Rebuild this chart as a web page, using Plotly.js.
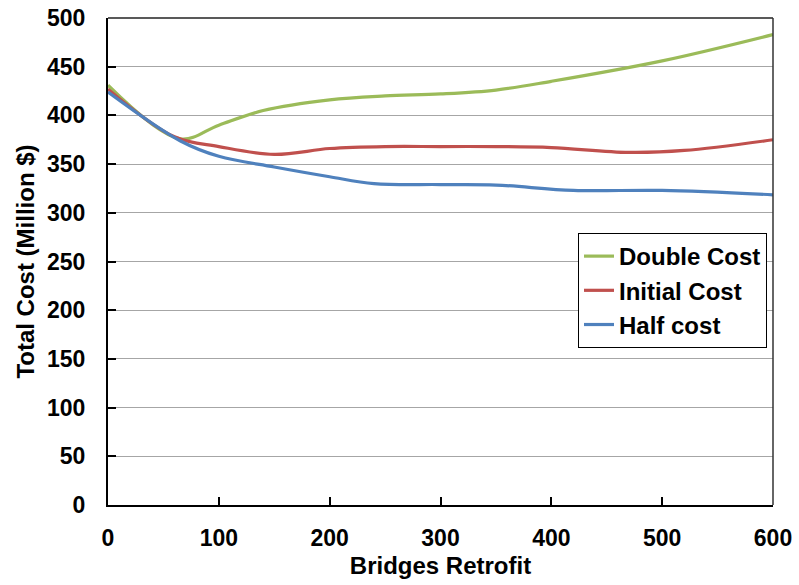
<!DOCTYPE html>
<html>
<head>
<meta charset="utf-8">
<script src="https://cdn.plot.ly/plotly-3.0.1.min.js"></script>
<style>html,body{margin:0;padding:0;background:#fff;}#chart{width:799px;height:585px;}</style>
</head>
<body>
<div id="chart"></div>
<script>
// Data
const doubleX = [0, 65, 100, 140, 200, 250, 300, 350, 400, 500, 600];
const doubleY = [431, 376, 390, 405, 416, 420, 422, 426, 435, 456, 483];
const initialX = [0, 60, 100, 150, 200, 250, 300, 350, 400, 470, 520, 600];
const initialY = [427, 378, 368, 360, 366, 368, 368, 368, 367, 362, 364, 375];
const halfX = [0, 65, 100, 150, 200, 240, 300, 350, 420, 500, 600];
const halfY = [424, 374, 358, 347, 337, 330, 329, 328.5, 323, 323, 318.5];
const seriesNames = ["Double Cost", "Initial Cost", "Half cost"];
const xTicks = [0, 100, 200, 300, 400, 500, 600];
const yTicks = [0, 50, 100, 150, 200, 250, 300, 350, 400, 450, 500];

const font = "Liberation Sans, Arial, sans-serif";
const mk = (x, y, name, color) => ({
  x: x, y: y, name: name, type: "scatter", mode: "lines",
  line: {color: color, width: 3.2, shape: "spline", smoothing: 1}
});
const traces = [
  mk(doubleX, doubleY, seriesNames[0], "#9BBB59"),
  mk(initialX, initialY, seriesNames[1], "#C0504D"),
  mk(halfX, halfY, seriesNames[2], "#4F81BD")
];
const layout = {
  width: 799, height: 585,
  margin: {l: 108, r: 26, t: 18, b: 80},
  paper_bgcolor: "#fff", plot_bgcolor: "#fff",
  font: {family: font, color: "#000"},
  showlegend: true,
  legend: {
    x: 0.991, xanchor: "right", y: 0.5585, yanchor: "top",
    bordercolor: "#000", borderwidth: 1, bgcolor: "#fff",
    font: {family: font, size: 24, color: "#000", weight: "bold"},
    itemwidth: 30
  },
  xaxis: {
    range: [0, 600], tickvals: xTicks, ticktext: xTicks.map(String),
    showgrid: false, zeroline: false,
    showline: true, linecolor: "#000", linewidth: 2,
    ticks: "inside", ticklen: 8, tickwidth: 2, tickcolor: "#000",
    tickfont: {family: font, size: 23, weight: "bold"},
    ticklabelstandoff: 11,
    title: {text: "Bridges Retrofit", font: {family: font, size: 24, weight: "bold"}, standoff: 8}
  },
  yaxis: {
    range: [0, 500], tickvals: yTicks, ticktext: yTicks.map(String),
    showgrid: true, gridcolor: "#a6a6a6", gridwidth: 1, zeroline: false,
    showline: true, linecolor: "#000", linewidth: 2,
    ticks: "inside", ticklen: 8, tickwidth: 2, tickcolor: "#000",
    tickfont: {family: font, size: 23, weight: "bold"},
    ticklabelstandoff: 16,
    title: {text: "Total Cost (Million $)", font: {family: font, size: 24, weight: "bold"}, standoff: 6}
  },
  shapes: [
    {type: "line", xref: "paper", yref: "paper", x0: 0, x1: 1, y0: 1, y1: 1, line: {color: "#222", width: 1.5}},
    {type: "line", xref: "paper", yref: "paper", x0: 1, x1: 1, y0: 0, y1: 1, line: {color: "#333", width: 1.5}}
  ]
};
Plotly.newPlot("chart", traces, layout, {displayModeBar: false, staticPlot: true});
</script>
</body>
</html>
